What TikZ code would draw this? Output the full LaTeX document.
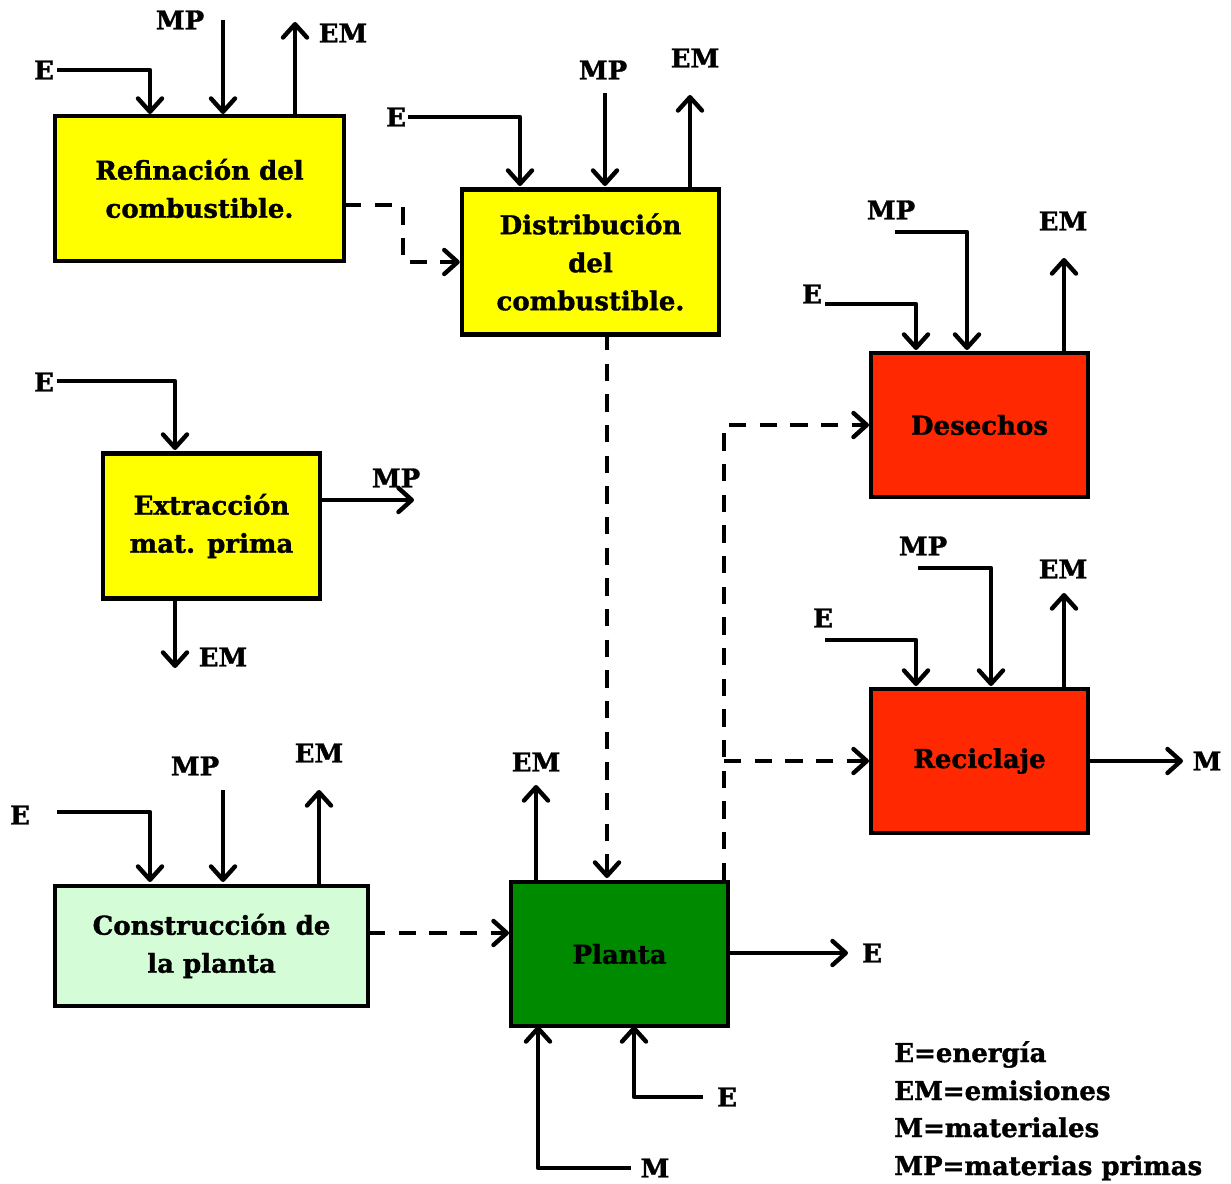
\documentclass[tikz,border=0pt]{standalone}
\usepackage{fontspec}
\setmainfont{DejaVu Serif}[BoldFeatures={FakeBold=1.3}]
\usetikzlibrary{arrows.meta}
\definecolor{cyel}{HTML}{FFFF00}
\definecolor{cred}{HTML}{FF2800}
\definecolor{cgreen}{HTML}{008A00}
\definecolor{clight}{HTML}{D4FCD6}
\tikzset{
  box/.style={draw, line width=3.3pt, align=center, inner sep=0pt,
    font=\bfseries\fontsize{19.5}{28.5}\selectfont},
  lbl/.style={inner sep=0pt, font=\bfseries\fontsize{19.5}{23}\selectfont},
  flow/.style={line width=3.3pt, line join=round,
    -{Straight Barb[length=10pt,width=18pt,line cap=round,line join=round]}},
  dflow/.style={flow, dash pattern=on 13pt off 10pt}
}
\begin{document}
\begin{tikzpicture}[x=0.75pt,y=-0.75pt]
\useasboundingbox (0,0) rectangle (1231,1184);

% boxes
\node[box, fill=cyel, minimum width=216.75pt, minimum height=108.75pt] (ref) at (199.5,188.5) {Refinación del\\combustible.};
\node[box, fill=cyel, minimum width=192.75pt, minimum height=108.75pt] (dist) at (590.5,262) {Distribución\\del\\combustible.};
\node[box, fill=cyel, minimum width=162.75pt, minimum height=108.75pt] (ext) at (211.5,526) {Extracción\\mat. prima};
\node[box, fill=clight, minimum width=234.75pt, minimum height=90pt] (cons) at (211.5,946) {Construcción de\\la planta};
\node[box, fill=cgreen, minimum width=162.75pt, minimum height=108pt] (plan) at (619.5,954) {Planta};
\node[box, fill=cred, minimum width=162.75pt, minimum height=108pt] (des) at (979.5,425) {Desechos};
\node[box, fill=cred, minimum width=162.75pt, minimum height=108pt] (rec) at (979.5,761) {Reciclaje};

% Refinación
\node[lbl] (r-e) at (44,70) {E};
\node[lbl] (r-mp) at (180,20) {MP};
\node[lbl] (r-em) at (343,33) {EM};
\coordinate (r-e0) at (57,70);
\coordinate (r-e1) at (150,114);
\coordinate (r-mp0) at (223,20);
\coordinate (r-mp1) at (223,114);
\coordinate (r-em0) at (295,116);
\coordinate (r-em1) at (295,22);
\draw[flow] (r-e0) -| (r-e1);
\draw[flow] (r-mp0) -- (r-mp1);
\draw[flow] (r-em0) -- (r-em1);
\coordinate (r-d0) at (344,205);
\coordinate (r-d1) at (403,205);
\draw[dflow] (r-d0) -- (r-d1) |- (dist.west);

% Distribución
\node[lbl] (d-e) at (396,117) {E};
\node[lbl] (d-mp) at (603,70) {MP};
\node[lbl] (d-em) at (695,58) {EM};
\coordinate (d-e0) at (408,117);
\coordinate (d-e1) at (520,186);
\coordinate (d-mp0) at (605,93);
\coordinate (d-mp1) at (605,186);
\coordinate (d-em0) at (690,188);
\coordinate (d-em1) at (690,95);
\draw[flow] (d-e0) -| (d-e1);
\draw[flow] (d-mp0) -- (d-mp1);
\draw[flow] (d-em0) -- (d-em1);
\coordinate (d-p0) at (607,333);
\coordinate (d-p1) at (607,878);
\draw[dflow] (d-p0) -- (d-p1);

% Extracción
\node[lbl] (x-e) at (44,382) {E};
\node[lbl] (x-mp) at (396,478) {MP};
\node[lbl] (x-em) at (223,657) {EM};
\coordinate (x-e0) at (57,381);
\coordinate (x-e1) at (175,450);
\coordinate (x-mp0) at (320,500);
\coordinate (x-mp1) at (414,500);
\coordinate (x-em0) at (175,597);
\coordinate (x-em1) at (175,668);
\draw[flow] (x-e0) -| (x-e1);
\draw[flow] (x-mp0) -- (x-mp1);
\draw[flow] (x-em0) -- (x-em1);

% Construcción
\node[lbl] (c-e) at (20,815) {E};
\node[lbl] (c-mp) at (195,766) {MP};
\node[lbl] (c-em) at (319,753) {EM};
\coordinate (c-e0) at (57,812);
\coordinate (c-e1) at (150,882);
\coordinate (c-mp0) at (223,790);
\coordinate (c-mp1) at (223,882);
\coordinate (c-em0) at (319,884);
\coordinate (c-em1) at (319,790);
\draw[flow] (c-e0) -| (c-e1);
\draw[flow] (c-mp0) -- (c-mp1);
\draw[flow] (c-em0) -- (c-em1);
\coordinate (c-d0) at (368,933);
\coordinate (c-d1) at (509,933);
\draw[dflow] (c-d0) -- (c-d1);

% Planta
\node[lbl] (p-em) at (536,762) {EM};
\node[lbl] (p-eo) at (872,953) {E};
\node[lbl] (p-ei) at (727,1097) {E};
\node[lbl] (p-m) at (655,1168) {M};
\coordinate (p-em0) at (536,880);
\coordinate (p-em1) at (536,785);
\coordinate (p-eo0) at (728,953);
\coordinate (p-eo1) at (848,953);
\coordinate (p-ei0) at (703,1097);
\coordinate (p-ei1) at (634,1026);
\coordinate (p-m0) at (631,1168);
\coordinate (p-m1) at (538,1026);
\draw[flow] (p-em0) -- (p-em1);
\draw[flow] (p-eo0) -- (p-eo1);
\draw[flow] (p-ei0) -| (p-ei1);
\draw[flow] (p-m0) -| (p-m1);
\coordinate (p-d0) at (724,880);
\coordinate (p-d1) at (724,425);
\coordinate (p-d2) at (869,425);
\coordinate (p-b0) at (724,761);
\coordinate (p-b1) at (869,761);
\draw[dflow] (p-d0) -- (p-d1) -- (p-d2);
\draw[dflow] (p-b0) -- (p-b1);

% Desechos
\node[lbl] (w-mp) at (891,210) {MP};
\node[lbl] (w-e) at (812,294) {E};
\node[lbl] (w-em) at (1063,221) {EM};
\coordinate (w-mp0) at (895,232);
\coordinate (w-mp1) at (967,350);
\coordinate (w-e0) at (825,304);
\coordinate (w-e1) at (916,350);
\coordinate (w-em0) at (1064,352);
\coordinate (w-em1) at (1064,258);
\draw[flow] (w-mp0) -| (w-mp1);
\draw[flow] (w-e0) -| (w-e1);
\draw[flow] (w-em0) -- (w-em1);

% Reciclaje
\node[lbl] (y-mp) at (923,546) {MP};
\node[lbl] (y-e) at (823,618) {E};
\node[lbl] (y-em) at (1063,569) {EM};
\node[lbl] (y-m) at (1207,761) {M};
\coordinate (y-mp0) at (918,568);
\coordinate (y-mp1) at (991,686);
\coordinate (y-e0) at (825,640);
\coordinate (y-e1) at (916,686);
\coordinate (y-em0) at (1064,688);
\coordinate (y-em1) at (1064,593);
\coordinate (y-m1) at (1183,761);
\draw[flow] (y-mp0) -| (y-mp1);
\draw[flow] (y-e0) -| (y-e1);
\draw[flow] (y-em0) -- (y-em1);
\draw[flow] (rec.east) -- (y-m1);

% Legend
\node[lbl, anchor=base west] (l1) at (894,1062) {E=energía};
\node[lbl, anchor=base west] (l2) at (894,1100) {EM=emisiones};
\node[lbl, anchor=base west] (l3) at (894,1137) {M=materiales};
\node[lbl, anchor=base west] (l4) at (894,1175) {MP=materias primas};
\end{tikzpicture}
\end{document}
